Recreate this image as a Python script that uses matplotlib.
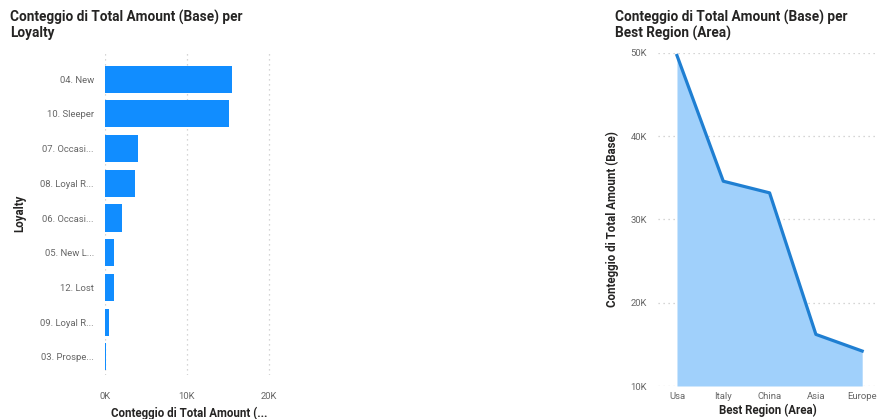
import matplotlib
matplotlib.use("Agg")
import matplotlib.pyplot as plt
from matplotlib.ticker import FuncFormatter

plt.rcParams['font.family'] = ['Roboto', 'DejaVu Sans']

# Loyalty bar chart data
loyalty = ["04. New", "10. Sleeper", "07. Occasi...", "08. Loyal R...", "06. Occasi...",
           "05. New L...", "12. Lost", "09. Loyal R...", "03. Prospe..."]
loyalty_counts = [15500, 15100, 4000, 3700, 2100, 1050, 1050, 500, 100]
loyalty_ticks = [0, 10000, 20000]

# Region area chart data
regions = ["Usa", "Italy", "China", "Asia", "Europe"]
region_counts = [49700, 34600, 33200, 16200, 14200]
region_ticks = [10000, 20000, 30000, 40000, 50000]

W, H = 877, 419
fig = plt.figure(figsize=(W / 100, H / 100), dpi=100)

def ax_rect(x0, y0, x1, y1):
    return [x0 / W, 1 - y1 / H, (x1 - x0) / W, (y1 - y0) / H]

kfmt = FuncFormatter(lambda v, p: f"{int(round(v / 1000))}K")
tick_color = "#666666"
label_color = "#252423"
grid_kw = dict(color="#c8c8c8", linestyle=(0, (1, 3)), linewidth=0.9)

# Left: horizontal bars
ax1 = fig.add_axes(ax_rect(105, 52, 273, 375))
ypos = list(range(len(loyalty)))
ax1.barh(ypos, loyalty_counts, height=0.78, color="#118DFF")
ax1.set_ylim(8.52, -0.78)
ax1.set_xlim(0, 20500)
ax1.set_xticks(loyalty_ticks)
ax1.xaxis.set_major_formatter(kfmt)
ax1.set_yticks(ypos)
ax1.set_yticklabels(loyalty)
ax1.grid(axis="x", **grid_kw)
ax1.set_axisbelow(True)
for s in ax1.spines.values():
    s.set_visible(False)
ax1.tick_params(axis="y", length=0, pad=8, labelsize=6.8, labelcolor=tick_color)
ax1.tick_params(axis="x", length=0, pad=12, labelsize=6.8, labelcolor=tick_color)
ax1.set_xlabel("Conteggio di Total Amount (...", fontsize=8.3, fontweight="bold",
               color=label_color, labelpad=4)
ax1.set_ylabel("Loyalty", fontsize=8.3, fontweight="bold", color=label_color, labelpad=10)
fig.text(10 / W, 1 - 10 / H, "Conteggio di Total Amount (Base) per\nLoyalty",
         ha="left", va="top", fontsize=9.8, fontweight="bold", color=label_color,
         linespacing=1.05)

# Right: area chart
ax2 = fig.add_axes(ax_rect(658, 53, 877, 386))
xpos = list(range(len(regions)))
ax2.fill_between(xpos, region_counts, 10000, color="#A0D0FB", linewidth=0)
ax2.plot(xpos, region_counts, color="#1F7FD2", linewidth=2.3, solid_joinstyle="round")
ax2.set_ylim(10000, 50000)
ax2.set_xlim(-0.41, 4.32)
ax2.set_yticks(region_ticks)
ax2.yaxis.set_major_formatter(kfmt)
ax2.set_xticks(xpos)
ax2.set_xticklabels(regions)
ax2.grid(axis="y", **grid_kw)
ax2.set_axisbelow(True)
for s in ax2.spines.values():
    s.set_visible(False)
ax2.tick_params(axis="y", length=0, pad=8, labelsize=6.8, labelcolor=tick_color)
ax2.tick_params(axis="x", length=0, pad=4, labelsize=6.8, labelcolor=tick_color)
ax2.set_xlabel("Best Region (Area)", fontsize=8.3, fontweight="bold",
               color=label_color, labelpad=2)
ax2.set_ylabel("Conteggio di Total Amount (Base)", fontsize=8.3, fontweight="bold",
               color=label_color, labelpad=8)
fig.text(615 / W, 1 - 10 / H, "Conteggio di Total Amount (Base) per\nBest Region (Area)",
         ha="left", va="top", fontsize=9.8, fontweight="bold", color=label_color,
         linespacing=1.05)

fig.savefig("out.png", dpi=100, facecolor="white")
